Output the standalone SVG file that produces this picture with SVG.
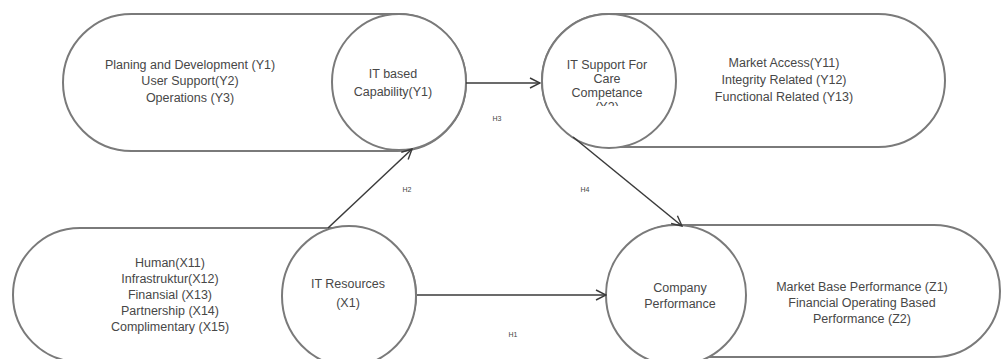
<svg xmlns="http://www.w3.org/2000/svg" width="1002" height="359" viewBox="0 0 1002 359">
<style>
.shape{fill:#fff;stroke:#7a7a7a;stroke-width:2}
.t{font-family:"Liberation Sans",Arial,sans-serif;font-size:12.5px;fill:#474747;text-anchor:middle}
.h{font-family:"Liberation Sans",Arial,sans-serif;font-size:7px;fill:#444;text-anchor:middle}
.conn{stroke:#3a3a3a;stroke-width:1.5;fill:none;marker-end:url(#arr)}
</style>
<defs>
<marker id="arr" viewBox="0 0 12 12" refX="11" refY="6" markerWidth="12" markerHeight="12" markerUnits="userSpaceOnUse" orient="auto">
<path d="M1,1 L11,6 L1,11" fill="none" stroke="#3a3a3a" stroke-width="1.4"/>
</marker>
<clipPath id="clipY2"><rect x="560" y="95" width="100" height="11"/></clipPath>
</defs>
<rect width="1002" height="359" fill="#fff"/>

<g id="node-it-capability">
<rect class="shape" x="63" y="14" width="403" height="137" rx="68.5"/>
<ellipse class="shape" cx="399" cy="82" rx="67" ry="68"/>
<text class="t" x="190" y="69">Planing and Development (Y1)</text>
<text class="t" x="190" y="85">User Support(Y2)</text>
<text class="t" x="190" y="102">Operations (Y3)</text>
<text class="t" x="393" y="78">IT based</text>
<text class="t" x="393" y="96">Capability(Y1)</text>
</g>

<g id="node-it-support">
<rect class="shape" x="542" y="14" width="403" height="133" rx="66.5"/>
<ellipse class="shape" cx="609" cy="81" rx="67" ry="67"/>
<text class="t" x="607" y="69">IT Support For</text>
<text class="t" x="607" y="83">Care</text>
<text class="t" x="607" y="97">Competance</text>
<text class="t" x="607" y="111" clip-path="url(#clipY2)">(Y2)</text>
<text class="t" x="784" y="67">Market Access(Y11)</text>
<text class="t" x="784" y="84">Integrity Related (Y12)</text>
<text class="t" x="784" y="101">Functional Related (Y13)</text>
</g>

<g id="node-it-resources">
<rect class="shape" x="13" y="228" width="403" height="134" rx="67"/>
<ellipse class="shape" cx="349" cy="296" rx="67" ry="70"/>
<text class="t" x="170" y="267">Human(X11)</text>
<text class="t" x="170" y="283">Infrastruktur(X12)</text>
<text class="t" x="170" y="299">Finansial (X13)</text>
<text class="t" x="170" y="315">Partnership (X14)</text>
<text class="t" x="170" y="331">Complimentary (X15)</text>
<text class="t" x="348" y="288">IT Resources</text>
<text class="t" x="348" y="307">(X1)</text>
</g>

<g id="node-company-performance">
<rect class="shape" x="611" y="225" width="389" height="132" rx="66"/>
<ellipse class="shape" cx="676" cy="295" rx="70" ry="70"/>
<text class="t" x="680" y="292">Company</text>
<text class="t" x="680" y="308">Performance</text>
<text class="t" x="862" y="291">Market Base Performance (Z1)</text>
<text class="t" x="862" y="307">Financial Operating Based</text>
<text class="t" x="862" y="323">Performance (Z2)</text>
</g>

<g id="connectors">
<line class="conn" x1="466" y1="83" x2="540" y2="83"/>
<line class="conn" x1="328" y1="228" x2="412" y2="149"/>
<line class="conn" x1="573" y1="137" x2="682" y2="226"/>
<line class="conn" x1="417" y1="295" x2="606" y2="295"/>
<text class="h" x="497" y="121">H3</text>
<text class="h" x="407" y="192">H2</text>
<text class="h" x="585" y="192">H4</text>
<text class="h" x="513" y="337">H1</text>
</g>
</svg>
